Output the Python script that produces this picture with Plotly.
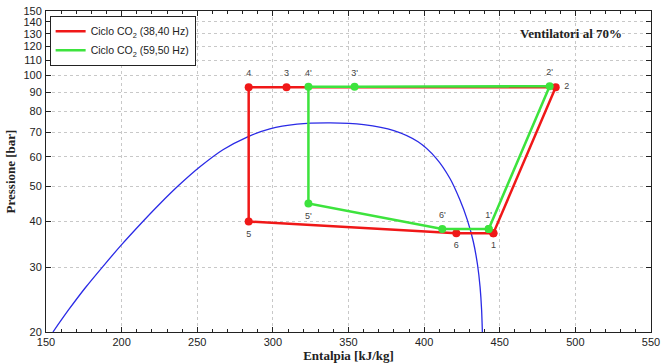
import plotly.graph_objects as go

# Saturation dome (h [kJ/kg], P [bar])
dome_h = [154.6, 165, 176, 188, 200, 212.5, 225, 238, 252, 267, 283, 298, 316, 338,
          360, 380, 396, 408, 417, 423.5, 428.5, 432.5, 435.3, 437, 438, 438.5]
dome_p = [20, 23, 26.4, 30.3, 34.6, 39.4, 44.6, 50.3, 56.5, 62.8, 68.0, 71.6, 73.7, 74.3,
          73.5, 70.8, 66, 59.5, 52.5, 46, 40.5, 35.3, 30.5, 26.5, 23, 20]

# Cycle CO2 38,40 Hz (points 1..6, closed)
red_labels = ["1", "2", "3", "4", "5", "6"]
red_h = [445.8, 487, 309, 284, 284, 421.3]
red_p = [37.2, 93.0, 93.0, 93.0, 40.0, 37.2]

# Cycle CO2 59,50 Hz
green_labels = ["1'", "2'", "3'", "4'", "5'", "6'"]
green_h = [442.7, 483, 354, 323.5, 323.5, 412]
green_p = [38.2, 93.6, 93.3, 93.3, 44.8, 38.2]

y_ticks = [20, 30, 40, 50, 60, 70, 80, 90, 100, 110, 120, 130, 140, 150]
x_ticks = [150, 200, 250, 300, 350, 400, 450, 500, 550]

RED = "#f01818"
GREEN = "#3de33d"
BLUE = "#2a2ae6"

fig = go.Figure()
fig.add_trace(go.Scatter(x=dome_h, y=dome_p, mode="lines",
                         line=dict(color=BLUE, width=1.3, shape="spline", smoothing=0.8),
                         showlegend=False, hoverinfo="skip"))
fig.add_trace(go.Scatter(x=red_h + red_h[:1], y=red_p + red_p[:1], mode="lines+markers",
                         line=dict(color=RED, width=2.5), marker=dict(size=8, color=RED),
                         showlegend=False))
fig.add_trace(go.Scatter(x=green_h + green_h[:1], y=green_p + green_p[:1], mode="lines+markers",
                         line=dict(color=GREEN, width=2.5), marker=dict(size=8, color=GREEN),
                         showlegend=False))
# legend entries (line only)
fig.add_trace(go.Scatter(x=[None], y=[None], mode="lines", line=dict(color=RED, width=2.5),
                         name="Ciclo CO<sub>2</sub> (38,40 Hz)"))
fig.add_trace(go.Scatter(x=[None], y=[None], mode="lines", line=dict(color=GREEN, width=2.5),
                         name="Ciclo CO<sub>2</sub> (59,50 Hz)"))

red_pos = ["bottom center", "middle right", "top center", "top center", "bottom center", "bottom center"]
green_pos = ["top center", "top center", "top center", "top center", "bottom center", "top center"]
fig.add_trace(go.Scatter(x=red_h, y=red_p, mode="markers+text", text=red_labels, textposition=red_pos,
                         marker=dict(size=12, opacity=0),
                         textfont=dict(size=9, color="#444", family="Liberation Sans"),
                         showlegend=False, hoverinfo="skip"))
fig.add_trace(go.Scatter(x=green_h, y=green_p, mode="markers+text", text=green_labels, textposition=green_pos,
                         marker=dict(size=12, opacity=0),
                         textfont=dict(size=9, color="#444", family="Liberation Sans"),
                         showlegend=False, hoverinfo="skip"))

axis_common = dict(showline=True, linecolor="#222", linewidth=1, mirror="ticks", ticks="inside",
                   ticklen=5, tickcolor="#222", showgrid=True, gridcolor="#c8c8c8",
                   griddash="dot", gridwidth=1, zeroline=False, automargin=False,
                   tickfont=dict(family="Liberation Sans", size=11, color="#222"))

fig.update_xaxes(range=[150, 550], tickvals=x_ticks, **axis_common,
                 minor=dict(dtick=10, ticks="inside", ticklen=3, tickcolor="#222", showgrid=False),
                 title=dict(text="<b>Entalpia [kJ/kg]</b>", standoff=0,
                            font=dict(family="Liberation Serif", size=13, color="#222")))
fig.update_yaxes(type="log", range=[1.30103, 2.176091], tickvals=y_ticks, ticktext=[str(v) for v in y_ticks],
                 **axis_common, ticklabelstandoff=1,
                 title=dict(text="<b>Pressione [bar]</b>", standoff=4,
                            font=dict(family="Liberation Serif", size=13, color="#222")))

fig.add_annotation(x=0.868, y=0.93, xref="paper", yref="paper", xanchor="center", yanchor="middle",
                   text="<b>Ventilatori al 70%</b>",
                   showarrow=False, font=dict(family="Liberation Serif", size=13, color="#222"))

fig.update_layout(
    width=662, height=363,
    margin=dict(l=46, r=11, t=11, b=31),
    plot_bgcolor="white", paper_bgcolor="white",
    legend=dict(x=0.006, y=0.985, xanchor="left", yanchor="top", bgcolor="white",
                bordercolor="#222", borderwidth=1, tracegroupgap=0, itemwidth=30,
                font=dict(family="Liberation Sans", size=10.5, color="#222")),
)
fig.write_html("out.html", config={"displayModeBar": False},
               post_script="document.body.style.margin='0';")
